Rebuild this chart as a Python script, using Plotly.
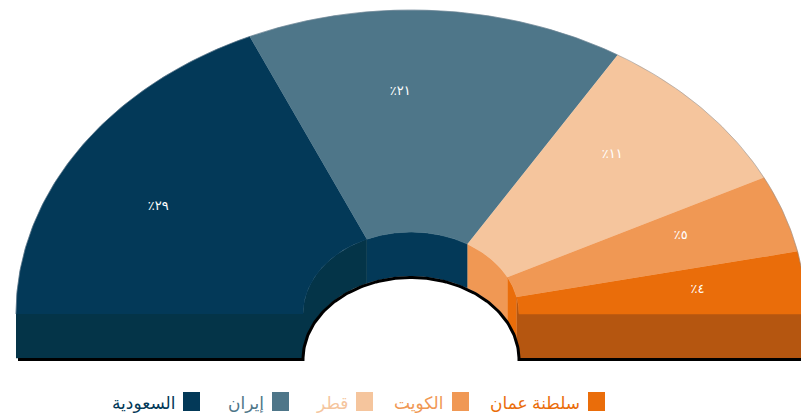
import numpy as np
import plotly.graph_objects as go

# ---------------- data ----------------
countries = ["السعودية", "إيران", "قطر", "الكويت", "سلطنة عمان"]
shares = [29, 21, 11, 5, 4]

# ---------------- styles ----------------
top_colors = ["#033958", "#4e7689", "#f5c59d", "#f09854", "#ea6d0a"]
wall_colors = ["#043448", "#033958", "#f09854", "#ea6d0a", "#b55610"]
front_left_color = "#043448"
front_right_color = "#b55610"

W, H = 801, 418
CX, CY = 411, 314            # centre of the top face
RX_OUT, RY_OUT = 395, 304    # outer ellipse radii
RX_IN, RY_IN = 108, 82       # hole ellipse radii
DEPTH = 44                   # extrusion depth
SKEW = 9                     # perspective skew of slices (deg)
LABEL_SKEW = 14              # perspective skew of labels (deg)
LABEL_R = 0.73

AR_DIGITS = str.maketrans("0123456789", "٠١٢٣٤٥٦٧٨٩")


def proj(theta_deg, skew=SKEW):
    t = np.asarray(theta_deg, dtype=float)
    return np.radians(t + skew * np.sin(np.radians(t)))


def ell(phi, rx, ry, dy=0.0):
    return CX + rx * np.cos(phi), CY - ry * np.sin(phi) + dy


total = sum(shares)
bounds = [180.0]
for s in shares:
    bounds.append(bounds[-1] - s / total * 180.0)

fig = go.Figure()

common = dict(mode="lines", fill="toself", showlegend=False, hoverinfo="skip")

# inner walls of the hole
for i in range(len(shares)):
    ph = proj(np.linspace(bounds[i], bounds[i + 1], 80))
    x1, y1 = ell(ph, RX_IN, RY_IN)
    x2, y2 = ell(ph[::-1], RX_IN, RY_IN, DEPTH)
    fig.add_trace(go.Scatter(x=np.concatenate([x1, x2]), y=np.concatenate([y1, y2]),
                             line=dict(color=wall_colors[i], width=0.5),
                             fillcolor=wall_colors[i], **common))

# front cut faces
fig.add_trace(go.Scatter(x=[CX - RX_OUT, CX - RX_IN, CX - RX_IN, CX - RX_OUT],
                         y=[CY, CY, CY + DEPTH, CY + DEPTH],
                         line=dict(color=front_left_color, width=0.5),
                         fillcolor=front_left_color, **common))
fig.add_trace(go.Scatter(x=[CX + RX_IN, CX + RX_OUT, CX + RX_OUT, CX + RX_IN],
                         y=[CY, CY, CY + DEPTH, CY + DEPTH],
                         line=dict(color=front_right_color, width=0.5),
                         fillcolor=front_right_color, **common))

# dark bottom edge (shadow line)
ph = np.radians(np.linspace(180, 0, 120))
hx, hy = ell(ph, RX_IN, RY_IN, DEPTH + 1.5)
bx = np.concatenate([[CX - RX_OUT + 2], hx, [CX + RX_OUT]])
by = np.concatenate([[CY + DEPTH + 1.5], hy, [CY + DEPTH + 1.5]])
fig.add_trace(go.Scatter(x=bx, y=by, mode="lines", line=dict(color="#000000", width=3),
                         showlegend=False, hoverinfo="skip"))

# top faces of slices
for i in range(len(shares)):
    ph = proj(np.linspace(bounds[i], bounds[i + 1], 120))
    xo, yo = ell(ph, RX_OUT, RY_OUT)
    xi, yi = ell(ph[::-1], RX_IN, RY_IN)
    fig.add_trace(go.Scatter(x=np.concatenate([xo, xi]), y=np.concatenate([yo, yi]),
                             line=dict(color=top_colors[i], width=0.5),
                             fillcolor=top_colors[i], **common))

# subtle outer rim
ph = np.radians(np.linspace(180, 0, 200))
ox, oy = ell(ph, RX_OUT, RY_OUT)
fig.add_trace(go.Scatter(x=ox, y=oy, mode="lines",
                         line=dict(color="rgba(120,135,150,0.45)", width=1),
                         showlegend=False, hoverinfo="skip"))

# slice labels
mids = proj([(bounds[i] + bounds[i + 1]) / 2 for i in range(len(shares))], LABEL_SKEW)
lx, ly = ell(mids, RX_OUT * LABEL_R, RY_OUT * LABEL_R)
labels = ["٪" + str(s).translate(AR_DIGITS) for s in shares]
fig.add_trace(go.Scatter(x=lx, y=ly, mode="text", text=labels,
                         textfont=dict(color="white", size=13, family="Noto Sans, DejaVu Sans"),
                         showlegend=False, hoverinfo="skip"))

# custom right-to-left legend (text to the left of the swatch)
LEGEND_BOX_X = [183, 272, 356, 452, 588]
shapes = []
annotations = []
for i, name in enumerate(countries):
    x0 = LEGEND_BOX_X[i]
    shapes.append(dict(type="rect", xref="x", yref="y", x0=x0, x1=x0 + 17, y0=392, y1=411,
                       fillcolor=top_colors[i], line=dict(width=0)))
    annotations.append(dict(x=x0 - 6, y=402, xref="x", yref="y", text=name, showarrow=False,
                            xanchor="right", yanchor="middle",
                            font=dict(size=17, color=top_colors[i], family="Noto Sans, DejaVu Sans")))

fig.update_layout(
    width=W, height=H, margin=dict(l=0, r=0, t=0, b=0),
    paper_bgcolor="white", plot_bgcolor="white",
    xaxis=dict(range=[0, W], visible=False, fixedrange=True),
    yaxis=dict(range=[H, 0], visible=False, fixedrange=True),
    shapes=shapes, annotations=annotations, showlegend=False,
)

fig.write_html(
    "out.html",
    config={"displayModeBar": False},
    post_script="document.body.style.margin='0';document.body.style.overflow='hidden';",
)
